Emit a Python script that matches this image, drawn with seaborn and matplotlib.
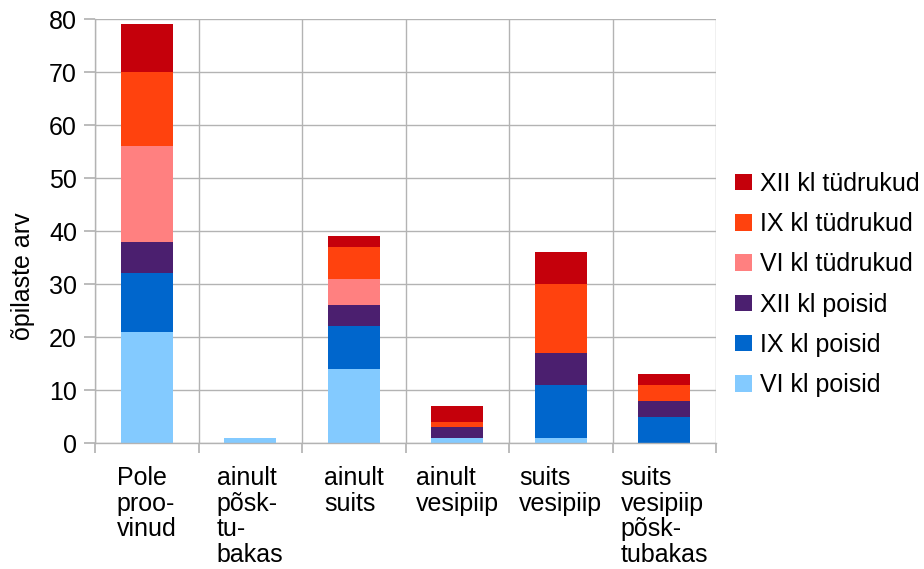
import numpy as np
import pandas as pd
import matplotlib
matplotlib.use('Agg')
import matplotlib.pyplot as plt
import matplotlib.transforms as mtransforms
from matplotlib.patches import Patch
import seaborn as sns

# Categories (x labels as in the chart, with hyphenation line breaks)
categories = ['Pole proovinud', 'ainult põsktubakas', 'ainult suits',
              'ainult vesipiip', 'suits vesipiip', 'suits vesipiip põsktubakas']
tick_labels = ['Pole\nproo-\nvinud', 'ainult\npõsk-\ntu-\nbakas', 'ainult\nsuits',
               'ainult\nvesipiip', 'suits\nvesipiip', 'suits\nvesipiip\npõsk-\ntubakas']

# Stacked series (bottom to top)
vi_poisid = [21, 1, 14, 1, 1, 0]
ix_poisid = [11, 0, 8, 0, 10, 5]
xii_poisid = [6, 0, 4, 2, 6, 3]
vi_tudrukud = [18, 0, 5, 0, 0, 0]
ix_tudrukud = [14, 0, 6, 1, 13, 3]
xii_tudrukud = [9, 0, 2, 3, 6, 2]

series_names = ['VI kl poisid', 'IX kl poisid', 'XII kl poisid',
                'VI kl tüdrukud', 'IX kl tüdrukud', 'XII kl tüdrukud']
series_values = [vi_poisid, ix_poisid, xii_poisid, vi_tudrukud, ix_tudrukud, xii_tudrukud]
series_colors = ['#83caff', '#0066cc', '#4b1f6f', '#ff8080', '#ff420e', '#c5000b']

sns.set_theme(style='white')
plt.rcParams['font.family'] = ['Liberation Sans', 'DejaVu Sans']
plt.rcParams['text.color'] = 'black'
plt.rcParams['ytick.labelcolor'] = 'black'
fs = 18

fig = plt.figure(figsize=(9.24, 5.69), dpi=100)
ax = fig.add_axes([0.1028, 0.2214, 0.6722, 0.7452])

bottom = np.zeros(len(categories))
for name, vals, col in zip(series_names, series_values, series_colors):
    sns.barplot(x=categories, y=vals, bottom=bottom, color=col, width=0.5,
                order=categories, ax=ax, linewidth=0, saturation=1)
    bottom = bottom + np.array(vals)

grid_col = '#b3b3b3'
ax.set_xlim(-0.5, len(categories) - 0.5)
ax.set_ylim(0, 80)
ax.set_yticks(range(0, 81, 10))
ax.set_xticks(np.arange(-0.5, len(categories), 1.0))
ax.set_xticklabels([])
ax.grid(True, axis='both', color=grid_col, linewidth=1)
ax.set_axisbelow(True)
for side in ['top', 'right']:
    ax.spines[side].set_visible(False)
for side in ['left', 'bottom']:
    ax.spines[side].set_color(grid_col)
    ax.spines[side].set_linewidth(1)
ax.tick_params(axis='y', which='major', length=8, color=grid_col, labelsize=fs, pad=5,
               left=True, labelcolor='black')
ax.tick_params(axis='x', which='major', length=7, color=grid_col, bottom=True)
ax.set_ylabel('')
ax.set_xlabel('')
fig.text(23 / 924, 1 - 276 / 569, 'õpilaste arv', rotation=90, ha='center', va='center',
         fontsize=fs, color='black')

# multi-line category labels: block centred under the bar, lines left aligned
trans = mtransforms.blended_transform_factory(ax.transData, ax.transAxes)
for i, lab in enumerate(tick_labels):
    ax.text(i, -0.055, lab, transform=trans, ha='center', va='top', multialignment='left',
            fontsize=fs, linespacing=1.08, color='black')

handles = [Patch(facecolor=c, edgecolor='none') for c in series_colors][::-1]
fig.legend(handles, series_names[::-1], loc='center left', bbox_to_anchor=(0.785, 0.5),
           frameon=False, fontsize=fs, handlelength=0.65, handleheight=0.65,
           handletextpad=0.35, labelspacing=0.65, borderaxespad=0)

fig.savefig('out.png', dpi=100)
